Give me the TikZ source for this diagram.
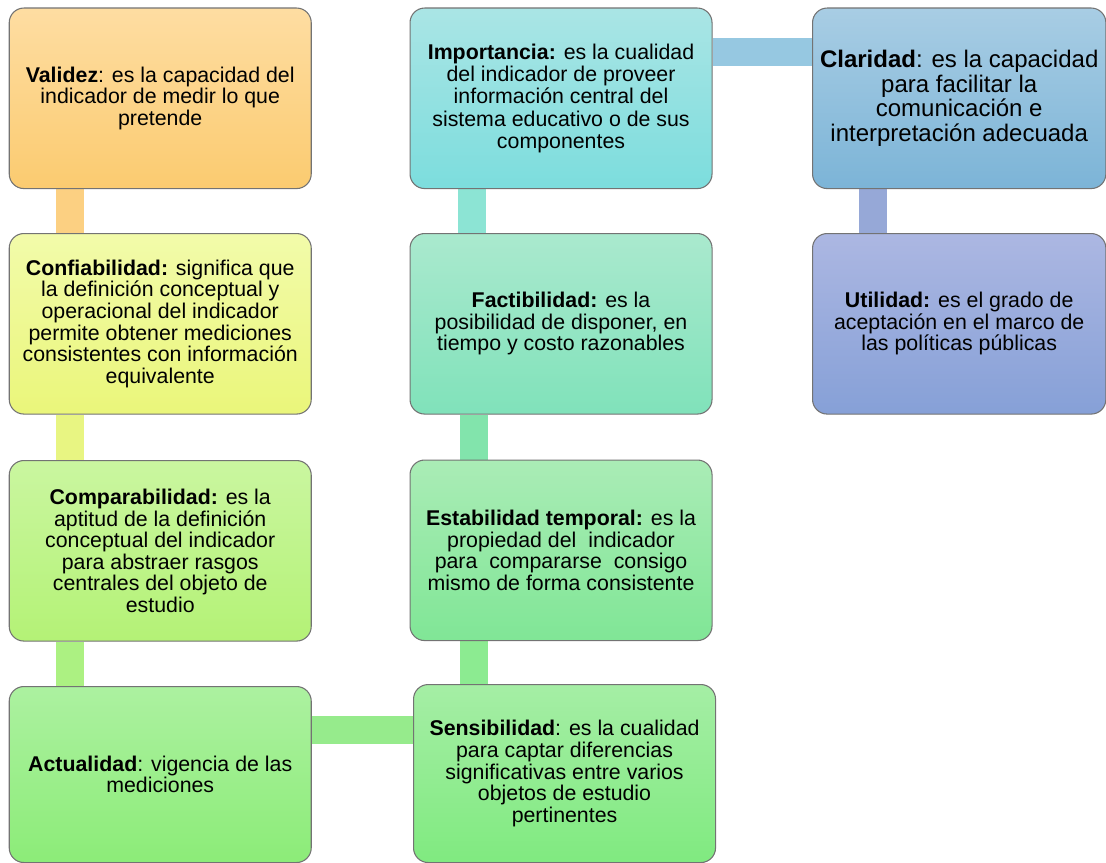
\documentclass[tikz,border=0pt]{standalone}
\usepackage{fontspec}
\setmainfont{Liberation Sans}
\usetikzlibrary{calc,backgrounds}
\definecolor{boxborder}{RGB}{115,115,115}
\definecolor{valT}{RGB}{254,221,162}\definecolor{valB}{RGB}{251,203,112}
\definecolor{confT}{RGB}{242,251,170}\definecolor{confB}{RGB}{234,246,122}
\definecolor{compT}{RGB}{202,246,160}\definecolor{compB}{RGB}{180,242,118}
\definecolor{actT}{RGB}{172,241,160}\definecolor{actB}{RGB}{140,236,120}
\definecolor{senT}{RGB}{165,238,165}\definecolor{senB}{RGB}{128,234,128}
\definecolor{estT}{RGB}{170,236,182}\definecolor{estB}{RGB}{128,230,150}
\definecolor{facT}{RGB}{170,233,206}\definecolor{facB}{RGB}{128,226,186}
\definecolor{impT}{RGB}{170,229,229}\definecolor{impB}{RGB}{124,221,221}
\definecolor{claT}{RGB}{168,205,228}\definecolor{claB}{RGB}{124,180,215}
\definecolor{utiT}{RGB}{172,183,226}\definecolor{utiB}{RGB}{134,160,215}
\definecolor{barVal}{RGB}{252,208,130}
\definecolor{barConf}{RGB}{232,245,130}
\definecolor{barComp}{RGB}{172,241,130}
\definecolor{barAS}{RGB}{150,235,140}
\definecolor{barES}{RGB}{140,235,145}
\definecolor{barFE}{RGB}{130,228,172}
\definecolor{barIF}{RGB}{140,228,212}
\definecolor{barIC}{RGB}{150,200,225}
\definecolor{barCU}{RGB}{150,168,215}
\begin{document}
\begin{tikzpicture}[x=0.75pt,y=-0.75pt,
  box/.style={draw=boxborder, line width=0.8pt, rounded corners=11pt,
    anchor=north west, minimum width=226.5pt, minimum height=135.4pt,
    align=center, inner sep=0pt, font=\fontsize{16}{16.2}\selectfont},
  bar/.style={line width=21pt}]
\useasboundingbox (0,0) rectangle (1106,863);

% column 1
\node[box, top color=valT, bottom color=valB] (val) at (8.7,7.5)
  {\textbf{Validez}: es la capacidad del\\indicador de medir lo que\\pretende};
\node[box, top color=confT, bottom color=confB] (conf) at (8.7,233)
  {\textbf{Confiabilidad:} significa que\\la definición conceptual y\\operacional del indicador\\permite obtener mediciones\\consistentes con información\\equivalente};
\node[box, top color=compT, bottom color=compB] (comp) at (8.7,460)
  {\textbf{Comparabilidad:} es la\\aptitud de la definición\\conceptual del indicador\\para abstraer rasgos\\centrales del objeto de\\estudio};
\node[box, top color=actT, bottom color=actB, minimum height=132pt] (act) at (8.7,686)
  {\textbf{Actualidad}: vigencia de las\\mediciones};

% column 2
\node[box, top color=impT, bottom color=impB, font=\fontsize{16}{16.7}\selectfont] (imp) at (409.5,7.5)
  {\textbf{Importancia:} es la cualidad\\del indicador de proveer\\información central del\\sistema educativo o de sus\\componentes};
\node[box, top color=facT, bottom color=facB] (fac) at (409.5,233)
  {\textbf{Factibilidad:} es la\\posibilidad de disponer, en\\tiempo y costo razonables};
\node[box, top color=estT, bottom color=estB] (est) at (409.5,459.5)
  {\textbf{Estabilidad temporal:} es la\\propiedad del\ \ indicador\\para\ \ compararse\ \ consigo\\mismo de forma consistente};
\node[box, top color=senT, bottom color=senB, minimum height=133.5pt] (sen) at (413,684)
  {\textbf{Sensibilidad}: es la cualidad\\para captar diferencias\\significativas entre varios\\objetos de estudio\\pertinentes};

% column 3
\node[box, top color=claT, bottom color=claB, minimum width=220pt,
  font=\fontsize{18}{18.4}\selectfont] (cla) at (812,7.5)
  {\textbf{Claridad}: es la capacidad\\para facilitar la\\comunicación e\\interpretación adecuada};
\node[box, top color=utiT, bottom color=utiB, minimum width=220pt] (uti) at (812,233)
  {\textbf{Utilidad:} es el grado de\\aceptación en el marco de\\las políticas públicas};

% connectors
\begin{scope}[on background layer]
\fill[white] (0,0) rectangle (1106,863);
\draw[bar, draw=barVal] ($(val.south west)+(61.5,0)$) -- ($(conf.north west)+(61.5,0)$);
\draw[bar, draw=barConf] ($(conf.south west)+(61.5,0)$) -- ($(comp.north west)+(61.5,0)$);
\draw[bar, draw=barComp] ($(comp.south west)+(61.5,0)$) -- ($(act.north west)+(61.5,0)$);
\draw[bar, draw=barAS] ($(act.north east)+(0,44)$) -- ($(sen.north west)+(0,46)$);
\draw[bar, draw=barES] ($(sen.north west)+(61,0)$) -- ($(est.south west)+(64.5,0)$);
\draw[bar, draw=barFE] ($(est.north west)+(64.5,0)$) -- ($(fac.south west)+(64.5,0)$);
\draw[bar, draw=barIF] ($(fac.north west)+(62.5,0)$) -- ($(imp.south west)+(62.5,0)$);
\draw[bar, draw=barIC] ($(imp.north east)+(0,44.5)$) -- ($(cla.north west)+(0,44.5)$);
\draw[bar, draw=barCU] ($(cla.south west)+(61,0)$) -- ($(uti.north west)+(61,0)$);
\end{scope}
\end{tikzpicture}
\end{document}
